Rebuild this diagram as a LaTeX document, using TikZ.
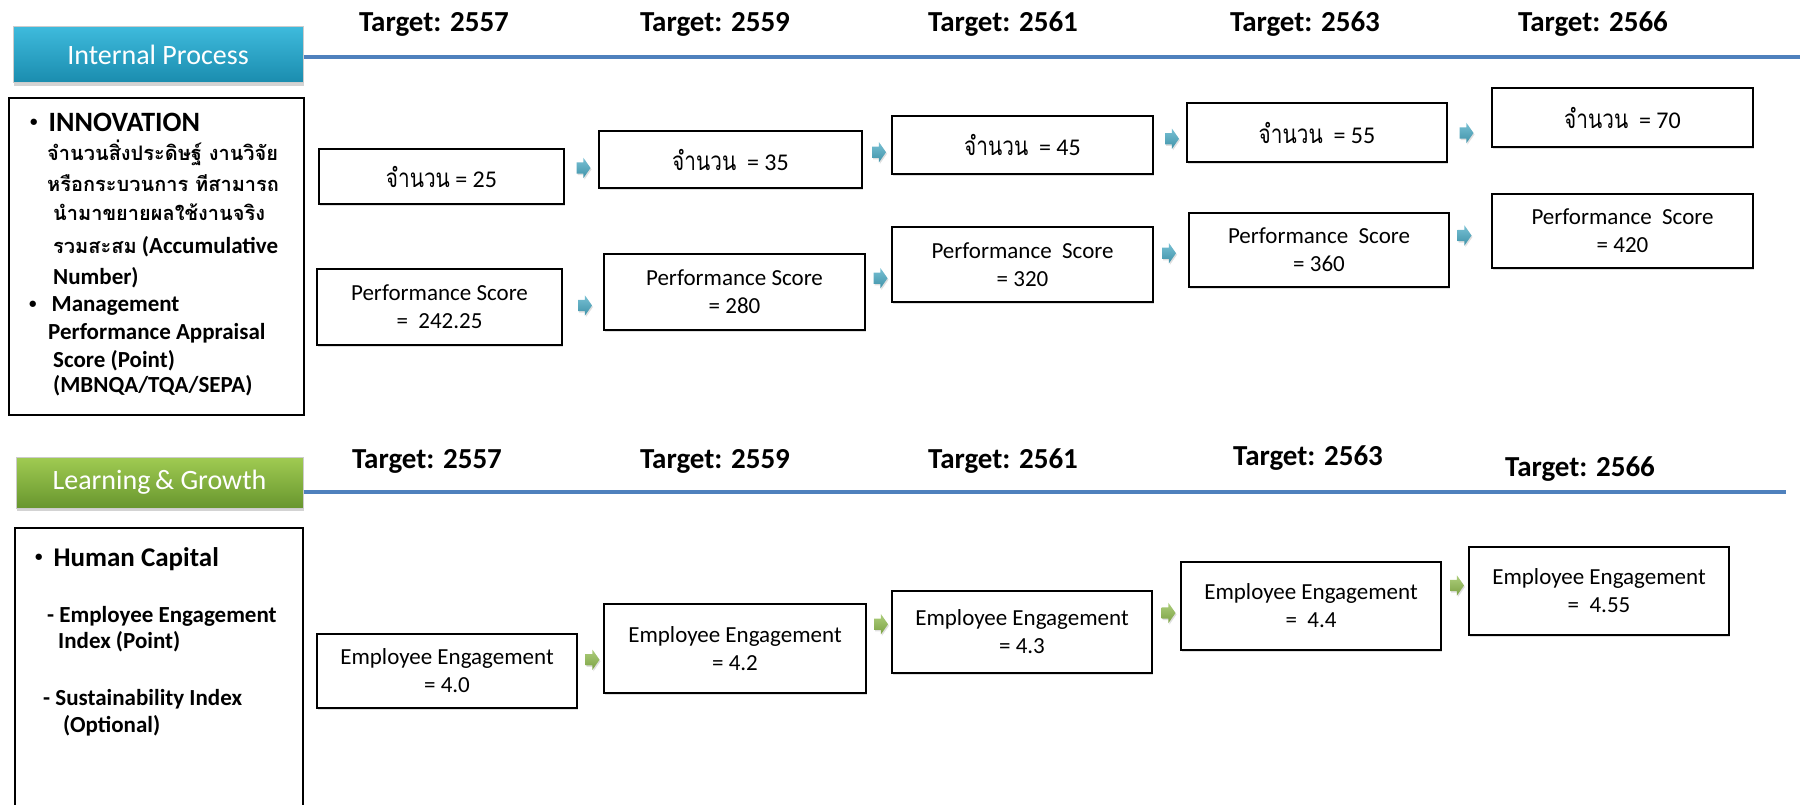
\documentclass[tikz,border=0pt]{standalone}
\usepackage{fontspec}
\setmainfont{Carlito}
\newfontfamily\thaifont[Script=Thai]{Loma}
\newfontfamily\thainarrow[Script=Thai, FakeStretch=0.8]{Loma}
\usetikzlibrary{shapes.arrows,shadows}

\definecolor{lineblue}{RGB}{79,129,189}
\definecolor{ipteal}{RGB}{75,172,198}
\definecolor{iptop}{RGB}{62,186,220}
\definecolor{ipbot}{RGB}{26,140,174}
\definecolor{lggreen}{RGB}{146,190,80}
\definecolor{lgtop}{RGB}{160,203,82}
\definecolor{lgbot}{RGB}{104,150,46}

\newcommand{\bul}[1]{{\fontsize{15}{15}\selectfont\raisebox{#1}{•}}}
\newcommand{\jn}{{\thainarrow\fontsize{26}{28}\selectfont จำนวน}}

\begin{document}
\begin{tikzpicture}[x=1pt, y=-1pt]
\tikzstyle{banner} = [inner sep=0pt, text=white, font=\fontsize{28}{32}\selectfont,
	draw=white!60!gray, line width=1pt, drop shadow={opacity=.35, shadow xshift=1pt, shadow yshift=-3pt}]
\tikzstyle{bline} = [lineblue, line width=3.5pt]
\tikzstyle{target} = [anchor=base, inner sep=0pt, font=\bfseries\fontsize{29}{32}\selectfont]
\tikzstyle{valbox} = [draw, line width=2.4pt, fill=white, align=center, inner sep=0pt,
	minimum width=261pt, font=\fontsize{23}{28}\selectfont,
	drop shadow={opacity=.25, shadow xshift=1pt, shadow yshift=-2pt}]
\tikzstyle{txtbox} = [draw, line width=2.4pt, inner sep=0pt]
\tikzstyle{lefttxt} = [anchor=base west, inner sep=0pt, font=\bfseries\fontsize{23}{26}\selectfont]
\tikzstyle{thaitxt} = [anchor=base west, inner sep=0pt, font=\thaifont\bfseries\fontsize{20}{22}\selectfont]
\tikzstyle{iparrow} = [single arrow, draw=none, top color=ipteal!75!white, bottom color=ipteal!85!black,
	inner xsep=0pt, inner ysep=5.5pt, minimum width=20pt, minimum height=14pt, single arrow head extend=4.5pt,
	single arrow tip angle=110, drop shadow={opacity=.25, shadow xshift=1pt, shadow yshift=-1.5pt}]
\tikzstyle{lgarrow} = [iparrow, top color=lggreen!75!white, bottom color=lggreen!85!black]

\clip (0,0) rectangle (1800,805);

% Internal Process
\node[banner, top color=iptop, bottom color=ipbot, minimum width=290pt, minimum height=56pt] (ip) at (158,55) {Internal Process};
\coordinate (ipend) at (1800,57);
\draw[bline] (ip.east |- ipend) -- (ipend);
\node[target] (t1) at (434,32) {Target: 2557};
\node[target] (t2) at (715,32) {Target: 2559};
\node[target] (t3) at (1003,32) {Target: 2561};
\node[target] (t4) at (1305,32) {Target: 2563};
\node[target] (t5) at (1593,32) {Target: 2566};

\node[txtbox, minimum width=295pt, minimum height=317pt] (ipbox) at (156.5,256.5) {};
\node[lefttxt, font=\bfseries\fontsize{28}{32}\selectfont] (inno) at (30,132) {\bul{5pt}\hspace{11pt}INNOVATION};
\node[thaitxt] (th1) at (47,161) {จำนวนสิ่งประดิษฐ์ งานวิจัย};
\node[thaitxt] (th2) at (47,192) {หรือกระบวนการ ทีสามารถ};
\node[thaitxt] (th3) at (53,221) {นำมาขยายผลใช้งานจริง};
\node[lefttxt] (th4) at (53,254) {{\thaifont\fontsize{20}{22}\selectfont รวมสะสม} (Accumulative};
\node[lefttxt] (num) at (53,284) {Number)};
\node[lefttxt] (mgt) at (29,312) {\bul{3.5pt}\hspace{15pt}Management};
\node[lefttxt] (mgt2) at (48,339) {Performance Appraisal};
\node[lefttxt] (mgt3) at (53,367) {Score (Point)};
\node[lefttxt] (mgt4) at (53,392) {(MBNQA/TQA/SEPA)};

\node[valbox, minimum width=245pt, minimum height=55pt, font=\fontsize{24}{28}\selectfont] (c1) at (441.5,176.5) {\jn{} = 25};
\node[valbox, minimum width=263pt, minimum height=57pt, font=\fontsize{24}{28}\selectfont] (c2) at (730.5,159.5) {\jn{}\ \ = 35};
\node[valbox, minimum height=58pt, font=\fontsize{24}{28}\selectfont] (c3) at (1022.5,145) {\jn{}\ \ = 45};
\node[valbox, minimum width=260pt, minimum height=59pt, font=\fontsize{24}{28}\selectfont] (c4) at (1317,132.5) {\jn{}\ \ = 55};
\node[valbox, minimum height=59pt, font=\fontsize{24}{28}\selectfont] (c5) at (1622.5,117.5) {\jn{}\ \ = 70};

\node[valbox, minimum width=245pt, minimum height=76pt] (p1) at (439.5,307) {Performance Score\\=\ \ 242.25};
\node[valbox, minimum height=76pt] (p2) at (734.5,292) {Performance Score\\= 280};
\node[valbox, minimum height=75pt] (p3) at (1022.5,264.5) {Performance\ \ Score\\= 320};
\node[valbox, minimum width=260pt, minimum height=74pt] (p4) at (1319,250) {Performance\ \ Score\\= 360};
\node[valbox, minimum height=74pt] (p5) at (1622.5,231) {Performance\ \ Score\\= 420};

\path (c1.east) -- node[iparrow] (ac1) {} (c2.west);
\path (c2.east) -- node[iparrow] (ac2) {} (c3.west);
\path (c3.east) -- node[iparrow] (ac3) {} (c4.west);
\path (c4.east) -- node[iparrow, xshift=-5pt, yshift=-8pt] (ac4) {} (c5.west);
\path (p1.east) -- node[iparrow, yshift=-6pt] (ap1) {} (p2.west);
\path (p2.east) -- node[iparrow] (ap2) {} (p3.west);
\path (p3.east) -- node[iparrow, xshift=-4pt, yshift=4pt] (ap3) {} (p4.west);
\path (p4.east) -- node[iparrow, xshift=-8pt, yshift=5pt] (ap4) {} (p5.west);

% Learning & Growth
\node[banner, top color=lgtop, bottom color=lgbot, minimum width=287pt, minimum height=51pt] (lg) at (159.5,482.5) {Learning\,\& Growth};
\coordinate (lgend) at (1786,492);
\draw[bline] (lg.east |- lgend) -- (lgend);
\node[target] (u1) at (427,468) {Target: 2557};
\node[target] (u2) at (715,468) {Target: 2559};
\node[target] (u3) at (1003,468) {Target: 2561};
\node[target] (u4) at (1308,465) {Target: 2563};
\node[target] (u5) at (1580,476) {Target: 2566};

\node[txtbox, minimum width=288pt, minimum height=300pt] (lgbox) at (159,678) {};
\node[lefttxt, font=\bfseries\fontsize{27}{32}\selectfont] (hc) at (35,566) {\bul{5pt}\hspace{11pt}Human Capital};
\node[lefttxt] (ee) at (47,622) {- Employee Engagement};
\node[lefttxt] (ee2) at (58,648) {Index (Point)};
\node[lefttxt] (si) at (43,705) {- Sustainability Index};
\node[lefttxt] (si2) at (63,732) {(Optional)};

\node[valbox, minimum width=260pt, minimum height=74pt] (e1) at (447,671) {Employee Engagement\\= 4.0};
\node[valbox, minimum width=262pt, minimum height=89pt] (e2) at (735,648.5) {Employee Engagement\\= 4.2};
\node[valbox, minimum width=260pt, minimum height=82pt] (e3) at (1022,632) {Employee Engagement\\= 4.3};
\node[valbox, minimum width=260pt, minimum height=88pt] (e4) at (1311,606) {Employee Engagement\\=\ \ 4.4};
\node[valbox, minimum width=260pt, minimum height=88pt] (e5) at (1599,591) {Employee Engagement\\=\ \ 4.55};

\path (e1.east) -- node[lgarrow] (ae1) {} (e2.west);
\path (e2.east) -- node[lgarrow, yshift=16pt] (ae2) {} (e3.west);
\path (e3.east) -- node[lgarrow, yshift=6pt] (ae3) {} (e4.west);
\path (e4.east) -- node[lgarrow, yshift=13pt] (ae4) {} (e5.west);
\end{tikzpicture}
\end{document}
